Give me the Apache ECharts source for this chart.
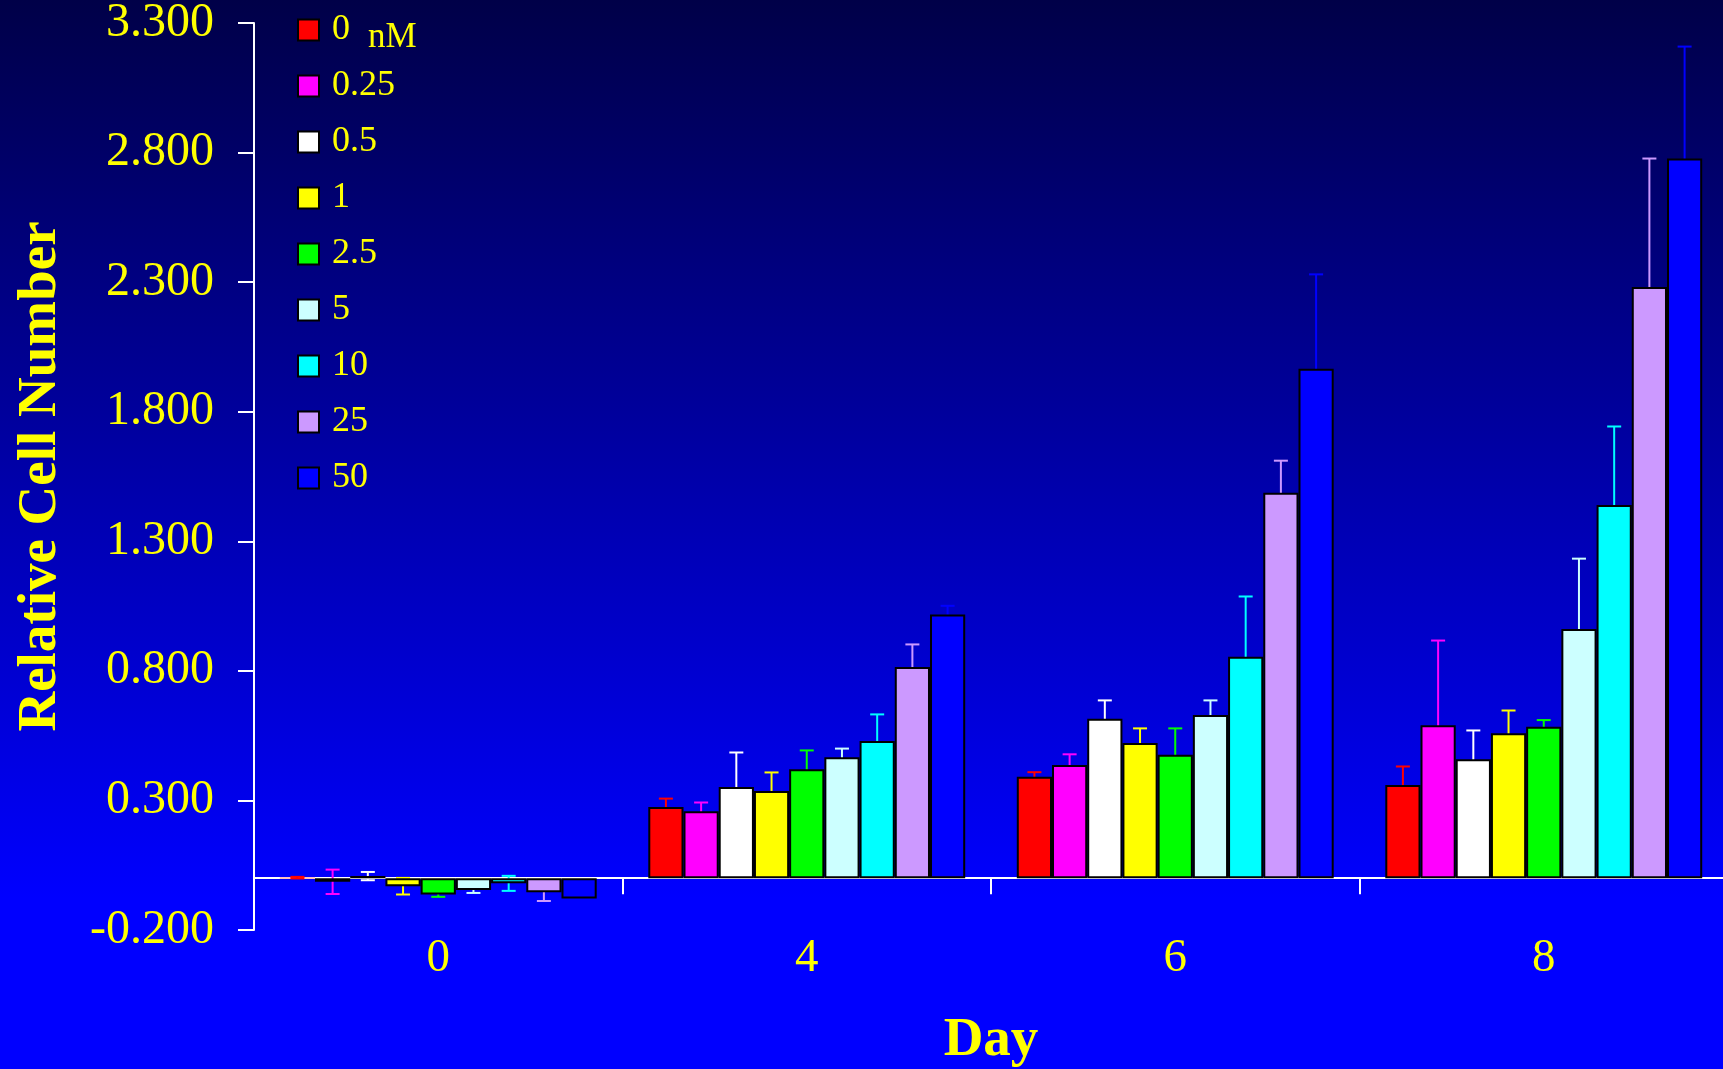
<!DOCTYPE html>
<html>
<head>
<meta charset="utf-8">
<script src="https://cdn.jsdelivr.net/npm/echarts@6/dist/echarts.min.js"></script>
<style>
  html, body { margin: 0; padding: 0; }
  #chart {
    width: 1723px;
    height: 1069px;
    background: linear-gradient(to bottom, #000048 0%, #0000ff 84%, #0000ff 100%);
  }
</style>
</head>
<body>
<div id="chart"></div>
<script>
// categories
const days = ['0', '4', '6', '8'];
const doses = ['0', '0.25', '0.5', '1', '2.5', '5', '10', '25', '50'];
const doseColors = ['#ff0000', '#ff00ff', '#ffffff', '#ffff00', '#00ff00', '#ccffff', '#00ffff', '#cc99ff', '#0000ff'];

// mean relative cell number per dose, one value per day
const dose0    = [0.002, 0.275, 0.391, 0.360];
const dose025  = [-0.014, 0.258, 0.437, 0.590];
const dose05   = [0.008, 0.352, 0.615, 0.459];
const dose1    = [-0.031, 0.336, 0.522, 0.559];
const dose25   = [-0.063, 0.420, 0.476, 0.584];
const dose5    = [-0.046, 0.467, 0.630, 0.962];
const dose10   = [-0.020, 0.529, 0.854, 1.440];
const dose25b  = [-0.054, 0.815, 1.487, 2.281];
const dose50   = [-0.078, 1.017, 1.966, 2.777];

// error (one side) per dose, one value per day
const err0    = [0.003, 0.032, 0.018, 0.071];
const err025  = [0.047, 0.034, 0.041, 0.327];
const err05   = [0.016, 0.133, 0.071, 0.111];
const err1    = [0.032, 0.072, 0.056, 0.088];
const err25   = [0.009, 0.073, 0.102, 0.026];
const err5    = [0.011, 0.033, 0.056, 0.271];
const err10   = [0.029, 0.103, 0.233, 0.303];
const err25b  = [0.034, 0.087, 0.124, 0.496];
const err50   = [0, 0.034, 0.364, 0.432];

const yTicks = [-0.2, 0.3, 0.8, 1.3, 1.8, 2.3, 2.8, 3.3];

const means = [dose0, dose025, dose05, dose1, dose25, dose5, dose10, dose25b, dose50];
const errs = [err0, err025, err05, err1, err25, err5, err10, err25b, err50];

const serif = '"Liberation Serif", "Times New Roman", serif';
const catGap = 0.14;

let chart = echarts.init(document.getElementById('chart'), null, { renderer: 'canvas' });

function errRenderer(k) {
  return function (params, api) {
    let cat = api.value(0), val = api.value(1), err = api.value(2);
    if (!err) return null;
    let band = api.size([1, 0])[0];
    let bw = band * (1 - catGap) / doses.length;
    let cx = api.coord([cat, 0])[0] - band * (1 - catGap) / 2 + (k + 0.5) * bw;
    let yTop = api.coord([cat, val + err])[1];
    let yBot = api.coord([cat, val - err])[1];
    let style = { stroke: doseColors[k], lineWidth: 2 };
    return {
      type: 'group',
      children: [
        { type: 'line', shape: { x1: cx, y1: yTop, x2: cx, y2: yBot }, style: style },
        { type: 'line', shape: { x1: cx - 7, y1: yTop, x2: cx + 7, y2: yTop }, style: style },
        { type: 'line', shape: { x1: cx - 7, y1: yBot, x2: cx + 7, y2: yBot }, style: style }
      ]
    };
  };
}

let series = [];
doses.forEach((d, k) => {
  series.push({
    name: d,
    type: 'bar',
    barGap: '0%',
    barCategoryGap: (catGap * 100) + '%',
    z: 3,
    itemStyle: { color: doseColors[k], borderColor: '#000', borderWidth: 2 },
    data: means[k].map(v => Math.abs(v) < 0.005 ? { value: v, itemStyle: { borderWidth: 0 } } : v)
  });
});
doses.forEach((d, k) => {
  series.push({
    name: 'err ' + d,
    type: 'custom',
    z: 2,
    renderItem: errRenderer(k),
    encode: { x: 0, y: 1 },
    data: means[k].map((v, i) => [i, v, errs[k][i]])
  });
});

let option = {
  animation: false,
  textStyle: { fontFamily: serif },
  grid: { left: 254, right: -5, top: 23, bottom: 139, outerBoundsMode: 'none', containLabel: false },
  legend: {
    data: doses,
    orient: 'vertical',
    left: 297,
    top: 12,
    padding: 0,
    itemWidth: 21,
    itemHeight: 21,
    itemGap: 20,
    itemStyle: { borderColor: '#000', borderWidth: 2 },
    textStyle: { color: '#ffff00', fontSize: 36, fontFamily: serif, padding: [0, 0, 0, 8] },
    icon: 'rect',
    selectedMode: false
  },
  graphic: [{
    type: 'text',
    left: 368,
    top: 20,
    style: { text: 'nM', fill: '#ffff00', font: '35px ' + serif }
  }],
  xAxis: {
    type: 'category',
    data: days,
    name: 'Day',
    nameLocation: 'middle',
    nameGap: 83,
    nameTextStyle: { color: '#ffff00', fontSize: 55, fontWeight: 'bold', fontFamily: serif },
    axisLine: { onZero: true, lineStyle: { color: '#ffffff', width: 2 } },
    axisTick: { show: true, length: 16, lineStyle: { color: '#ffffff', width: 2 } },
    axisLabel: { color: '#ffff00', fontSize: 47, fontFamily: serif, margin: 5 },
    splitLine: { show: false }
  },
  yAxis: {
    type: 'value',
    min: -0.2,
    max: 3.3,
    name: 'Relative Cell Number',
    nameLocation: 'middle',
    nameGap: 186,
    nameTextStyle: { color: '#ffff00', fontSize: 55, fontWeight: 'bold', fontFamily: serif },
    axisLine: { show: true, lineStyle: { color: '#ffffff', width: 2 } },
    axisTick: { show: true, length: 16, customValues: yTicks, lineStyle: { color: '#ffffff', width: 2 } },
    axisLabel: {
      color: '#ffff00', fontSize: 48, fontFamily: serif, margin: 40,
      customValues: yTicks,
      formatter: v => v.toFixed(3)
    },
    splitLine: { show: false }
  },
  series: series
};
chart.setOption(option);
</script>
</body>
</html>
